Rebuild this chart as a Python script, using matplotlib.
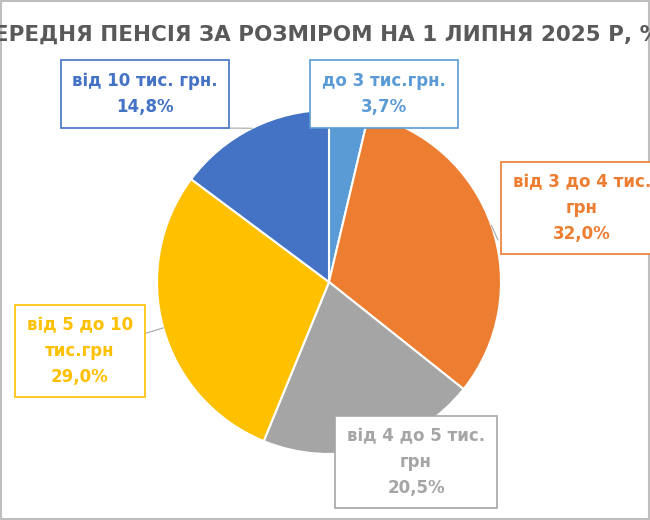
import matplotlib
matplotlib.use("Agg")
import matplotlib.pyplot as plt
import numpy as np

categories = ["до 3 тис.грн.", "від 3 до 4 тис.\nгрн", "від 4 до 5 тис.\nгрн", "від 5 до 10\nтис.грн", "від 10 тис. грн."]
values = [3.7, 32.0, 20.5, 29.0, 14.8]
value_labels = ["3,7%", "32,0%", "20,5%", "29,0%", "14,8%"]
colors = ["#5B9BD5", "#ED7D31", "#A5A5A5", "#FFC000", "#4472C4"]
title = "СЕРЕДНЯ ПЕНСІЯ ЗА РОЗМІРОМ НА 1 ЛИПНЯ 2025 Р, %"

W, H = 650, 520
fig = plt.figure(figsize=(6.5, 5.2), dpi=100)
ax = fig.add_axes([0, 0, 1, 1])
ax.set_xlim(0, W); ax.set_ylim(0, H); ax.set_aspect("equal"); ax.axis("off")

cx, cy, r = 329, H - 282, 172
wedges, _ = ax.pie(values, colors=colors, startangle=90, counterclock=False,
                   center=(cx, cy), radius=r, wedgeprops=dict(edgecolor="white", linewidth=1.5))
ax.set_xlim(0, W); ax.set_ylim(0, H)

label_pos = [(384, 94), (582, 208), (416, 462), (80, 351), (145, 94)]
text_colors = ["#5B9BD5", "#ED7D31", "#A5A5A5", "#FFC000", "#4472C4"]
anchors = [(322, 118), (498, 240), (398, 418), (140, 335), (222, 128)]
for w, (px, py), tc, cat, vl, anc in zip(wedges, label_pos, text_colors, categories, value_labels, anchors):
    ang = np.deg2rad((w.theta1 + w.theta2) / 2)
    ex, ey = cx + r * np.cos(ang), cy + r * np.sin(ang)
    ax.plot([anc[0], ex], [H - anc[1], ey], color="#A6A6A6", lw=0.8, zorder=1)
    ax.text(px, H - py, cat + "\n" + vl, ha="center", va="center", fontsize=12,
            fontweight="bold", color=tc, linespacing=1.55, zorder=5,
            bbox=dict(boxstyle="square,pad=0.7", fc="white", ec=tc, lw=1.2))

ax.text(320, H - 35, title, ha="center", va="center", fontsize=15.5,
        fontweight="bold", color="#595959")
ax.add_patch(plt.Rectangle((1, 1), W - 2, H - 2, fill=False, ec="#BFBFBF", lw=1.5))
fig.savefig("out.png", dpi=100)
